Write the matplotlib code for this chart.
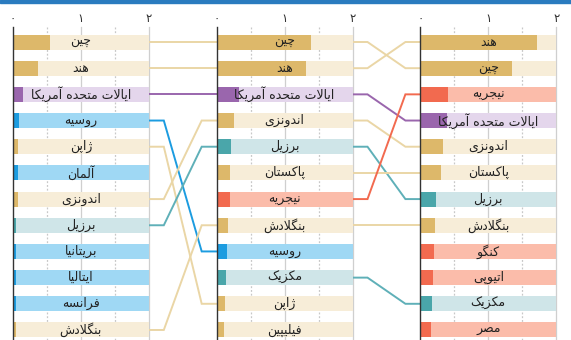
import matplotlib
matplotlib.use("Agg")
import matplotlib.pyplot as plt
from matplotlib.patches import Rectangle

# ---------------- data ----------------
names_1950 = ["چین", "هند", "ایالات متحده آمریکا", "روسیه", "ژاپن", "آلمان",
              "اندونزی", "برزیل", "بریتانیا", "ایتالیا", "فرانسه", "بنگلادش"]
values_1950 = [0.55, 0.37, 0.15, 0.09, 0.075, 0.07, 0.07, 0.05, 0.05, 0.045, 0.04, 0.04]

names_2019 = ["چین", "هند", "ایالات متحده آمریکا", "اندونزی", "برزیل", "پاکستان",
              "نیجریه", "بنگلادش", "روسیه", "مکزیک", "ژاپن", "فیلیپین"]
values_2019 = [1.39, 1.32, 0.33, 0.26, 0.21, 0.20, 0.19, 0.16, 0.145, 0.13, 0.125, 0.11]

names_2050 = ["هند", "چین", "نیجریه", "ایالات متحده آمریکا", "اندونزی", "پاکستان",
              "برزیل", "بنگلادش", "کنگو", "اتیوپی", "مکزیک", "مصر"]
values_2050 = [1.72, 1.35, 0.41, 0.39, 0.33, 0.31, 0.23, 0.21, 0.20, 0.19, 0.17, 0.16]

region_asia = ["چین", "هند", "ژاپن", "اندونزی", "بنگلادش", "پاکستان", "فیلیپین"]
region_america = ["ایالات متحده آمریکا"]
region_europe = ["روسیه", "آلمان", "بریتانیا", "ایتالیا", "فرانسه"]
region_latin = ["برزیل", "مکزیک"]
region_africa = ["نیجریه", "کنگو", "اتیوپی", "مصر"]

tick_values = [0, 1, 2]
tick_labels = ["۰", "۱", "۲"]

# ---------------- styles ----------------
STYLE = {
    "asia":    dict(dark="#ddb86a", light="#f7edd8", line="#ead6a6"),
    "america": dict(dark="#9a66ad", light="#e4d6ec", line="#9a66ad"),
    "europe":  dict(dark="#1c9ce0", light="#9fd8f4", line="#1c9ce0"),
    "latin":   dict(dark="#4aa6aa", light="#cfe5e8", line="#5fb0b8"),
    "africa":  dict(dark="#f26a4f", light="#fbbcaa", line="#f26a4f"),
}


def region_of(name):
    if name in region_asia:
        return "asia"
    if name in region_america:
        return "america"
    if name in region_europe:
        return "europe"
    if name in region_latin:
        return "latin"
    return "africa"


# ---------------- Arabic/Persian shaping ----------------
# (isolated, final, initial, medial)
FORMS = {
    "ا": ("\uFE8D", "\uFE8E", None, None),
    "آ": ("\uFE81", "\uFE82", None, None),
    "ب": ("\uFE8F", "\uFE90", "\uFE91", "\uFE92"),
    "پ": ("\uFB56", "\uFB57", "\uFB58", "\uFB59"),
    "ت": ("\uFE95", "\uFE96", "\uFE97", "\uFE98"),
    "ج": ("\uFE9D", "\uFE9E", "\uFE9F", "\uFEA0"),
    "چ": ("\uFB7A", "\uFB7B", "\uFB7C", "\uFB7D"),
    "ح": ("\uFEA1", "\uFEA2", "\uFEA3", "\uFEA4"),
    "د": ("\uFEA9", "\uFEAA", None, None),
    "ر": ("\uFEAD", "\uFEAE", None, None),
    "ز": ("\uFEAF", "\uFEB0", None, None),
    "ژ": ("\uFB8A", "\uFB8B", None, None),
    "س": ("\uFEB1", "\uFEB2", "\uFEB3", "\uFEB4"),
    "ش": ("\uFEB5", "\uFEB6", "\uFEB7", "\uFEB8"),
    "ص": ("\uFEB9", "\uFEBA", "\uFEBB", "\uFEBC"),
    "ف": ("\uFED1", "\uFED2", "\uFED3", "\uFED4"),
    "ک": ("\uFB8E", "\uFB8F", "\uFB90", "\uFB91"),
    "گ": ("\uFB92", "\uFB93", "\uFB94", "\uFB95"),
    "ل": ("\uFEDD", "\uFEDE", "\uFEDF", "\uFEE0"),
    "م": ("\uFEE1", "\uFEE2", "\uFEE3", "\uFEE4"),
    "ن": ("\uFEE5", "\uFEE6", "\uFEE7", "\uFEE8"),
    "ه": ("\uFEE9", "\uFEEA", "\uFEEB", "\uFEEC"),
    "و": ("\uFEED", "\uFEEE", None, None),
    "ی": ("\uFBFC", "\uFBFD", "\uFBFE", "\uFBFF"),
}
LAM_ALEF = {"ا": ("\uFEFB", "\uFEFC", None, None),
            "آ": ("\uFEF5", "\uFEF6", None, None)}


def shape(text):
    tokens = []
    i = 0
    while i < len(text):
        c = text[i]
        if c == "ل" and i + 1 < len(text) and text[i + 1] in LAM_ALEF:
            tokens.append(LAM_ALEF[text[i + 1]])
            i += 2
            continue
        tokens.append(FORMS.get(c, c))
        i += 1
    out = []
    for k, t in enumerate(tokens):
        if isinstance(t, str):
            out.append(t)
            continue
        prev = tokens[k - 1] if k > 0 else None
        nxt = tokens[k + 1] if k + 1 < len(tokens) else None
        jp = isinstance(prev, tuple) and prev[2] is not None
        jn = t[2] is not None and isinstance(nxt, tuple)
        if jp and jn:
            out.append(t[3])
        elif jp:
            out.append(t[1])
        elif jn:
            out.append(t[2])
        else:
            out.append(t[0])
    return "".join(reversed(out))


# ---------------- figure ----------------
W, H = 571, 340
fig = plt.figure(figsize=(W / 100, H / 100), dpi=100)
ax = fig.add_axes([0, 0, 1, 1])
ax.axis("off")

PX = 67.9          # pixels per unit
X0 = 13            # pixel of first panel zero
ROW = 26.18        # pixels per row
Y0 = 42            # pixel of first row
ax.set_xlim(-X0 / PX, (W - X0) / PX)
ax.set_ylim((H - Y0) / ROW, -Y0 / ROW)

panels = [(names_1950, values_1950), (names_2019, values_2019), (names_2050, values_2050)]
offsets = [0.0, 3.0, 6.0]
bar_h = 15 / ROW
line_top = -15 / ROW
bottom = (H - Y0) / ROW + 1

fig.patches.append(Rectangle((0, 1 - 3 / H), 1, 3 / H, transform=fig.transFigure,
                             color="#2a7bbf", zorder=10))

for (names, vals), off in zip(panels, offsets):
    # grid lines
    for gx, ls, col in [(0.5, (0, (1.5, 1.5)), "#c8c8c8"), (1.5, (0, (1.5, 1.5)), "#c8c8c8"),
                        (1, "-", "#cfcfcf"), (2, "-", "#cfcfcf")]:
        ax.plot([off + gx, off + gx], [line_top, bottom], color=col, lw=0.9, ls=ls, zorder=1)
    ax.plot([off, off], [line_top, bottom], color="#333333", lw=1.0, zorder=5)
    for tv, tl in zip(tick_values, tick_labels):
        ax.text(off + tv, -23 / ROW, tl, ha="center", va="center", fontsize=8.5,
                color="#333333", family="DejaVu Sans")
    rows = list(range(len(names)))
    light = [STYLE[region_of(n)]["light"] for n in names]
    dark = [STYLE[region_of(n)]["dark"] for n in names]
    ax.barh(rows, [2] * len(names), left=off, height=bar_h, color=light, zorder=2)
    ax.barh(rows, vals, left=off, height=bar_h, color=dark, zorder=3)
    for r, n in zip(rows, names):
        ax.text(off + 1, r, shape(n), ha="center", va="center", fontsize=9.0,
                color="#222222", family="DejaVu Sans", zorder=6)

# connecting lines
stub = 15 / PX
for p in range(2):
    a_names = panels[p][0]
    b_names = panels[p + 1][0]
    xa = offsets[p] + 2
    xb = offsets[p + 1]
    for i, n in enumerate(a_names):
        if n in b_names:
            j = b_names.index(n)
            ax.plot([xa, xa + stub, xb - stub, xb], [i, i, j, j],
                    color=STYLE[region_of(n)]["line"], lw=1.4, zorder=1.5,
                    solid_joinstyle="miter")

fig.savefig("out.png", dpi=100)
